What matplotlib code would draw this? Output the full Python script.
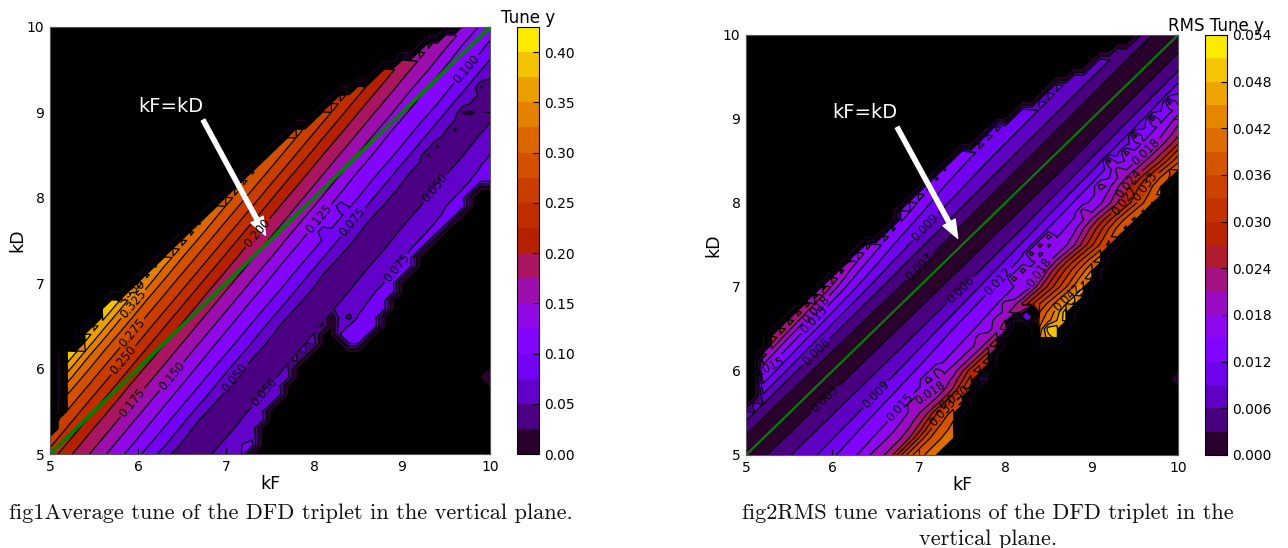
import numpy as np
import matplotlib
matplotlib.use('Agg')
import matplotlib.pyplot as plt

W, H = 1288, 548

# ---- Tune y panel: kF where each value is crossed, read at kD=5 and kD=10
tune_values = [0.40, 0.375, 0.35, 0.325, 0.30, 0.275, 0.25, 0.225, 0.20, 0.175, 0.15, 0.125,
               0.10, 0.075, 0.05, 0.036, 0.05, 0.075, 0.085]
tune_rows = [5.0, 10.0]
tune_kf_kd5 = [4.22, 4.33, 4.42, 4.51, 4.63, 4.78, 4.94, 5.09, 5.25, 5.45, 5.64, 5.85,
               6.04, 6.23, 6.36, 6.60, 6.85, 7.15, 7.60]
tune_kf_kd10 = [8.29, 8.40, 8.49, 8.58, 8.70, 8.85, 9.01, 9.16, 9.32, 9.50, 9.71, 9.85,
                10.14, 10.31, 10.50, 10.70, 10.92, 11.20, 11.70]
tune_upper_kf = [5.0, 5.11, 5.2, 5.2, 5.34, 5.53, 5.89, 6.1, 6.7, 7.16, 7.69, 8.1, 8.41, 8.75, 9.06, 9.4, 9.63, 10.0]
tune_upper_kd = [5.2, 5.49, 5.67, 6.2, 6.33, 6.65, 6.98, 7.17, 7.78, 8.2, 8.72, 9.06, 9.28, 9.47, 9.67, 9.87, 10.0, 10.4]
tune_lower_kf = [5.0, 7.27, 7.47, 7.8, 8.1, 8.2, 8.3, 8.36, 8.64, 8.86, 9.07, 9.35, 9.58, 9.89, 10.0]
tune_lower_kd = [4.5, 5.0, 5.48, 6.02, 6.42, 6.63, 6.4, 6.22, 6.37, 6.8, 7.13, 7.5, 7.74, 8.15, 8.2]
tune_spot_kf = [8.4, 9.9, 9.8, 9.7, 9.6, 9.4, 9.3, 7.2, 8.3, 8.1, 10.0]
tune_spot_kd = [6.6, 9.3, 9.0, 9.0, 8.8, 8.6, 8.5, 5.1, 7.9, 7.6, 5.9]
tune_spot_val = [0.04, 0.022, 0.022, 0.022, 0.022, 0.022, 0.022, 0.078, 0.078, 0.078, 0.03]
tune_label_kf = [5.91, 5.93, 5.93, 5.83, 7.35, 5.94, 6.4, 7.1, 7.42, 8.09, 8.43, 9.72, 9.38, 8.97]
tune_label_kd = [6.89, 6.77, 6.42, 6.1, 7.6, 5.6, 5.9, 5.9, 5.73, 7.72, 7.72, 9.52, 8.11, 7.15]

# ---- RMS panel: kF - kD where each value is crossed, read along four kD rows
rms_values = [0.027, 0.024, 0.021, 0.018, 0.015, 0.012, 0.009, 0.006, 0.003, 0.001, 0.003, 0.006, 0.009,
              0.012, 0.015, 0.018, 0.021, 0.024, 0.027, 0.030, 0.033, 0.036, 0.039, 0.042, 0.045, 0.048, 0.051]
rms_rows = [5.0, 7.0, 8.5, 10.0]
rms_off_kd5 = [-1.0, -0.95, -0.88, -0.8, -0.7, -0.6, -0.5, -0.4, -0.28, 0.0, 0.25, 0.52, 0.83,
               1.04, 1.29, 1.43, 1.6, 1.7, 1.75, 1.8, 1.85, 1.92, 2.05, 2.3, 2.4, 2.5, 2.6]
rms_off_kd7 = [-1.13, -1.08, -1.02, -0.95, -0.85, -0.72, -0.58, -0.43, -0.24, 0.02, 0.27, 0.52, 0.70,
               0.85, 1.1, 1.28, 1.33, 1.38, 1.45, 1.52, 1.6, 1.68, 1.76, 1.82, 1.88, 1.93, 2.0]
rms_off_kd85 = [-1.6, -1.5, -1.4, -1.3, -1.1, -0.95, -0.7, -0.46, -0.28, -0.05, 0.28, 0.47, 0.62,
                0.74, 0.88, 1.0, 1.1, 1.2, 1.28, 1.35, 1.42, 1.5, 1.6, 1.75, 1.85, 1.95, 2.05]
rms_off_kd10 = [-1.7, -1.6, -1.5, -1.4, -1.15, -1.0, -0.75, -0.5, -0.3, -0.1, 0.22, 0.42, 0.55,
                0.65, 0.78, 0.95, 1.05, 1.1, 1.15, 1.2, 1.25, 1.3, 1.35, 1.4, 1.45, 1.5, 1.55]
# kink of the outer contours along kD, every 0.25 from 5 to 10
rms_kink = [0, 0.03, -0.02, 0.04, -0.03, 0.02, 0.05, -0.04, 0.03, -0.02, 0.05, -0.03, 0.04, -0.05,
            0.02, 0.04, -0.03, 0.03, -0.02, 0.02, 0]
rms_upper_kf = [5.0, 5.12, 5.14, 5.2, 5.38, 6.0, 6.09, 6.63, 6.93, 7.71, 7.94, 8.21, 8.63, 9.06, 9.36, 9.56, 10.0]
rms_upper_kd = [5.5, 5.69, 6.17, 6.25, 6.58, 7.14, 7.24, 7.7, 8.1, 8.79, 8.95, 9.11, 9.43, 9.7, 9.86, 10.0, 10.4]
rms_lower_kf = [5.0, 7.27, 7.4, 7.48, 7.82, 7.94, 8.06, 8.14, 8.2, 8.3, 8.4, 8.6, 8.78, 8.98, 9.06, 9.29, 9.56, 9.79, 10.0]
rms_lower_kd = [4.5, 5.0, 5.18, 5.5, 6.11, 6.29, 6.52, 6.69, 6.8, 6.8, 6.4, 6.4, 6.7, 7.0, 7.22, 7.56, 7.83, 8.07, 8.36]
rms_spot_kf = [8.0, 7.9, 7.6, 7.7, 8.1, 8.2, 8.3, 8.4, 8.5, 8.9, 9.1, 9.3, 9.4, 9.2, 9.5, 9.7, 9.9,
               6.9, 7.0, 7.1, 7.2, 7.4, 7.5, 8.3, 8.2, 10.0, 7.7, 8.5, 8.6, 8.7, 8.8]
rms_spot_kd = [6.8, 6.6, 6.2, 6.4, 7.1, 7.2, 7.4, 7.5, 7.6, 7.9, 8.2, 8.4, 8.6, 8.5, 8.8, 9.0, 9.2,
               5.6, 5.7, 5.9, 6.0, 6.0, 6.1, 6.6, 6.7, 5.9, 5.9, 6.5, 6.5, 6.7, 6.8]
rms_spot_val = [0.0195] * 23 + [0.02, 0.02, 0.002, 0.012, 0.05, 0.05, 0.05, 0.049]
rms_label_kf = [5.83, 5.93, 6.52, 6.79, 7.1, 7.51, 7.92, 8.4, 7.01, 7.05, 5.82, 5.79, 5.29,
                7.28, 7.4, 9.42, 9.41, 9.64, 9.64, 8.72]
rms_label_kd = [6.21, 5.65, 5.71, 5.56, 5.77, 6.94, 7.07, 7.17, 7.24, 7.74, 6.58, 6.75, 6.01,
                5.5, 5.7, 8.24, 8.01, 8.19, 8.6, 6.88]

kf_grid = np.linspace(5, 10, 51)
kd_grid = np.linspace(5, 10, 51)


def field(values, rows, crossings, upper, lower, spots, offset=False, kink=None):
    crossings = np.array(crossings)
    Z = np.zeros((kd_grid.size, kf_grid.size))
    for j, kd in enumerate(kd_grid):
        row = np.array([np.interp(kd, rows, crossings[:, k]) for k in range(len(values))])
        if offset:
            row = row + kd
        if kink is not None:
            row[15:] += np.interp(kd, np.linspace(5, 10, len(kink)), kink)
        Z[j] = np.interp(kf_grid, row, values)
    KF, KD = np.meshgrid(kf_grid, kd_grid)
    outside = (KD > np.interp(KF, upper[0], upper[1])) | (KD < np.interp(KF, lower[0], lower[1]))
    Z[outside] = -0.001
    for x, y, v in zip(*spots):
        Z[int(round((y - 5) * 10)), int(round((x - 5) * 10))] = v
    return Z


def panel(rect, Z, levels, ticks, fmt, title, green_lw, manual, text_xy, tail, tip, ylab_x, cb_rect):
    ax = fig.add_axes([rect[0] / W, 1 - rect[3] / H, (rect[2] - rect[0]) / W, (rect[3] - rect[1]) / H])
    ax.set_facecolor('black')
    cf = ax.contourf(kf_grid, kd_grid, Z, levels=levels, cmap='gnuplot')
    cs = ax.contour(kf_grid, kd_grid, Z, levels=levels[1:], colors='k', linewidths=0.9)
    ax.plot([5, 10], [5, 10], color='green', lw=green_lw)
    ax.clabel(cs, fmt='%.3f', fontsize=8.5, colors='k', manual=manual, inline=True, inline_spacing=2)
    ax.set_xlim(5, 10)
    ax.set_ylim(5, 10)
    ax.set_xticks([5, 6, 7, 8, 9, 10])
    ax.set_yticks([5, 6, 7, 8, 9, 10])
    ax.tick_params(direction='in', top=True, right=True, labelsize=10, length=4, pad=4)
    for s in ax.spines.values():
        s.set_color('#555555')
    ax.set_xlabel('kF', fontsize=12.5, labelpad=1)
    ax.set_ylabel('kD', fontsize=12.5)
    ax.yaxis.set_label_coords((ylab_x - rect[0]) / (rect[2] - rect[0]), 0.5)
    ax.text(text_xy[0], text_xy[1], 'kF=kD', color='white', fontsize=14, ha='left', va='center')
    ax.annotate('', xy=tip, xytext=tail,
                arrowprops=dict(facecolor='white', edgecolor='white', width=3, headwidth=10, headlength=13, shrink=0))
    cax = fig.add_axes([cb_rect[0] / W, 1 - cb_rect[3] / H, (cb_rect[2] - cb_rect[0]) / W, (cb_rect[3] - cb_rect[1]) / H])
    fig.colorbar(cf, cax=cax, ticks=ticks, format=fmt)
    cax.tick_params(direction='in', length=4, labelsize=10, pad=4, color='k')
    cax.set_title(title, fontsize=12, pad=3)
    return ax


fig = plt.figure(figsize=(W / 100, H / 100), dpi=100)

tune_z = field(tune_values, tune_rows, np.column_stack([tune_kf_kd5, tune_kf_kd10]).T,
               (tune_upper_kf, tune_upper_kd), (tune_lower_kf, tune_lower_kd),
               (tune_spot_kf, tune_spot_kd, tune_spot_val))
rms_z = field(rms_values, rms_rows, np.array([rms_off_kd5, rms_off_kd7, rms_off_kd85, rms_off_kd10]),
              (rms_upper_kf, rms_upper_kd), (rms_lower_kf, rms_lower_kd),
              (rms_spot_kf, rms_spot_kd, rms_spot_val), offset=True, kink=rms_kink)

panel((50, 27, 490, 454), tune_z, np.arange(0, 0.4251, 0.025), np.arange(0, 0.401, 0.05), '%.2f', 'Tune y',
      2.6, list(zip(tune_label_kf, tune_label_kd)), (6.0, 9.07), (6.74, 8.91), (7.45, 7.56), 26, (517, 27, 539, 454))
panel((746, 35, 1178, 455), rms_z, np.arange(0, 0.05401, 0.003), np.arange(0, 0.05401, 0.006), '%.3f', 'RMS Tune y',
      1.6, list(zip(rms_label_kf, rms_label_kd)), (6.0, 9.08), (6.75, 8.9), (7.45, 7.58), 722, (1205, 35, 1227, 455))

cap = dict(family='cmr10', fontsize=16.1, color='#111111', va='center')
fig.text(9 / W, 1 - 513 / H, 'fig1Average tune of the DFD triplet in the vertical plane.', ha='left', **cap)
fig.text(988 / W, 1 - 513 / H, 'fig2RMS tune variations of the DFD triplet in the', ha='center', **cap)
fig.text(988 / W, 1 - 539 / H, 'vertical plane.', ha='center', **cap)

fig.savefig('out.png', dpi=100)
